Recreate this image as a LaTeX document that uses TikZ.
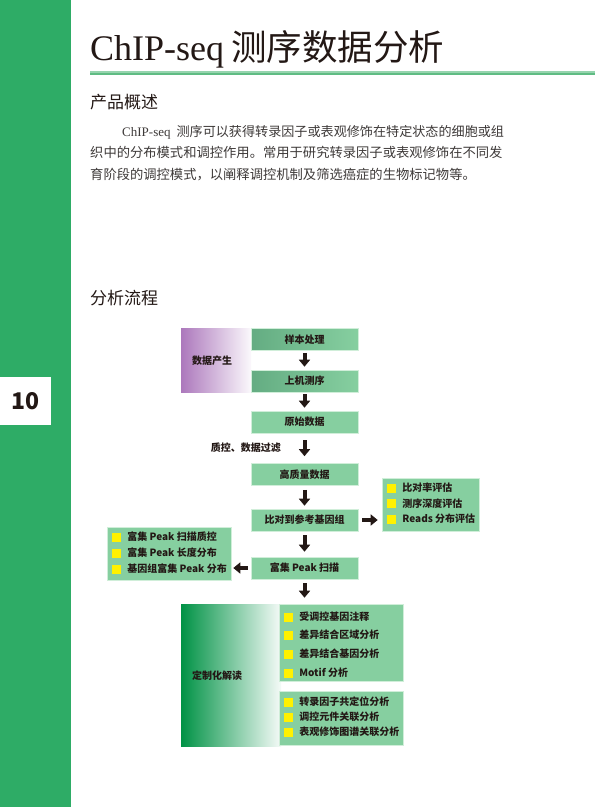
\documentclass[tikz,border=0pt]{standalone}
\usepackage{fontspec}
\setmainfont{Liberation Serif}
\newfontfamily\cjk{Noto Sans CJK SC}
\usetikzlibrary{arrows.meta}

\definecolor{sidegreen}{RGB}{46,172,102}
\definecolor{boxg}{RGB}{134,207,160}
\definecolor{boxedge}{RGB}{208,238,217}
\definecolor{boxdark}{RGB}{100,172,130}
\definecolor{ink}{RGB}{35,24,21}
\definecolor{bodyink}{RGB}{62,58,57}
\definecolor{ruleA}{RGB}{150,212,174}
\definecolor{ruleB}{RGB}{96,188,132}
\definecolor{purp}{RGB}{172,120,188}
\definecolor{deepg}{RGB}{0,146,69}
\definecolor{ysq}{RGB}{255,241,0}

\newcommand{\listentry}[4]{% name, x, y, text
  \node[ysquare] (#1-sq) at (#2,#3) {};
  \node[entrytext, anchor=west] (#1) at ([xshift=6pt]#1-sq.east) {#4};}

\begin{document}
\begin{tikzpicture}[x=1pt,y=-1pt,
  stepbox/.style={fill=boxg, draw=boxedge, line width=0.6pt,
    minimum width=107pt, minimum height=22pt, inner sep=0pt,
    font=\cjk\bfseries\fontsize{10}{12}\selectfont, text=ink},
  shadedbox/.style={stepbox, left color=boxdark, right color=boxg},
  listbox/.style={fill=boxg, draw=boxedge, line width=0.6pt, inner sep=0pt},
  ysquare/.style={fill=ysq, minimum size=9pt, inner sep=0pt},
  entrytext/.style={inner sep=0pt, font=\cjk\bfseries\fontsize{10}{12}\selectfont, text=ink},
  paneltext/.style={inner sep=0pt, font=\cjk\bfseries\fontsize{10}{12}\selectfont, text=ink},
  fatarrow/.style={draw=ink, line width=4pt, -{Triangle[width=11pt,length=7pt]}},
  heading/.style={inner sep=0pt, anchor=base west, text=ink, font=\cjk\fontsize{17}{20}\selectfont},
  bodyline/.style={inner sep=0pt, anchor=base west, text=bodyink, font=\fontsize{13}{15}\selectfont},
]
% page frame
\useasboundingbox (0,0) rectangle (595,807);
\fill[white] (0,0) rectangle (595,807);

% green side band with page number
\fill[sidegreen] (0,0) rectangle (71,807);
\node[fill=white, minimum width=51pt, minimum height=48pt, inner sep=0pt] (pagebox) at (25.5,401) {};
\node[inner sep=0pt, text=ink, font=\cjk\bfseries\fontsize{23}{25}\selectfont] (pagenum) at (pagebox.center) {10};

% title and rule
\node[inner sep=0pt, anchor=base west, text=ink, font=\fontsize{36}{40}\selectfont] (title) at (90,60)
  {ChIP-seq\hspace{7pt}{\cjk\fontsize{35.5}{40}\selectfont 测序数据分析}};
\fill[ruleB] (90,71) rectangle (595,75);
\fill[ruleA] (90,71) rectangle (595,72.6);

% overview
\node[heading] (h1) at (90,108.5) {产品概述};
\node[bodyline] (p1) at (122,136) {ChIP-seq\hspace{6pt}{\cjk\fontsize{13.1}{15}\selectfont 测序可以获得转录因子或表观修饰在特定状态的细胞或组}};
\node[bodyline] (p2) at (90,157.5) {\cjk\fontsize{13.3}{15}\selectfont 织中的分布模式和调控作用。常用于研究转录因子或表观修饰在不同发};
\node[bodyline] (p3) at (90,179) {\cjk\fontsize{13.3}{15}\selectfont 育阶段的调控模式，以阐释调控机制及筛选癌症的生物标记物等。};

% workflow heading
\node[heading] (h2) at (90,304.5) {分析流程};

% side panels
\node[left color=purp, right color=purp!5, minimum width=70pt, minimum height=64pt, inner sep=0pt] (genpanel) at (216,360) {};
\node[paneltext, anchor=west] (gentext) at (192,361) {数据产生};
\node[left color=deepg, right color=deepg!4, minimum width=100pt, minimum height=142pt, inner sep=0pt] (custpanel) at (231,675) {};
\node[paneltext, anchor=west] (custtext) at (192,676) {定制化解读};

% main column
\node[shadedbox] (s1) at (304.5,339.5) {样本处理};
\node[shadedbox] (s2) at (304.5,381) {上机测序};
\node[stepbox] (s3) at (304.5,422) {原始数据};
\node[stepbox] (s4) at (304.5,474.5) {高质量数据};
\node[stepbox] (s5) at (304.5,520) {比对到参考基因组};
\node[stepbox] (s6) at (304.5,568) {富集 Peak 扫描};
\node[paneltext, anchor=east] (qc) at (281,447.5) {质控、数据过滤};

% side lists
\node[listbox, minimum width=97pt, minimum height=53pt] (rbox) at (430.5,504.5) {};
\listentry{r1}{391.5}{488}{比对率评估}
\listentry{r2}{391.5}{503.5}{测序深度评估}
\listentry{r3}{391.5}{519}{Reads 分布评估}

\node[listbox, minimum width=124pt, minimum height=53pt] (lbox) at (169,553.5) {};
\listentry{l1}{116.5}{537}{富集 Peak 扫描质控}
\listentry{l2}{116.5}{553}{富集 Peak 长度分布}
\listentry{l3}{116.5}{569}{基因组富集 Peak 分布}

\node[listbox, minimum width=124pt, minimum height=77pt] (ubox) at (341,642.5) {};
\listentry{u1}{288.5}{617}{受调控基因注释}
\listentry{u2}{288.5}{635}{差异结合区域分析}
\listentry{u3}{288.5}{654}{差异结合基因分析}
\listentry{u4}{288.5}{673}{Motif 分析}

\node[listbox, minimum width=124pt, minimum height=54pt] (dbox) at (341,718) {};
\listentry{d1}{288.5}{702}{转录因子共定位分析}
\listentry{d2}{288.5}{717}{调控元件关联分析}
\listentry{d3}{288.5}{732}{表观修饰图谱关联分析}

% connectors
\draw[fatarrow, shorten <=2pt, shorten >=3pt] (s1) -- (s2);
\draw[fatarrow, shorten <=2pt, shorten >=3pt] (s2) -- (s3);
\draw[fatarrow, shorten <=7pt, shorten >=7pt] (s3) -- (s4);
\draw[fatarrow, shorten <=4pt, shorten >=3pt] (s4) -- (s5);
\draw[fatarrow, shorten <=4pt, shorten >=5pt] (s5) -- (s6);
\draw[fatarrow, shorten <=4pt, shorten >=6pt] (s6) -- (s6.south |- ubox.north);
\draw[fatarrow, shorten <=4pt, shorten >=4pt] (s5.east) -- (s5.east -| rbox.west);
\draw[fatarrow, shorten <=3pt, shorten >=2pt] (s6.west) -- (s6.west -| lbox.east);
\end{tikzpicture}
\end{document}
